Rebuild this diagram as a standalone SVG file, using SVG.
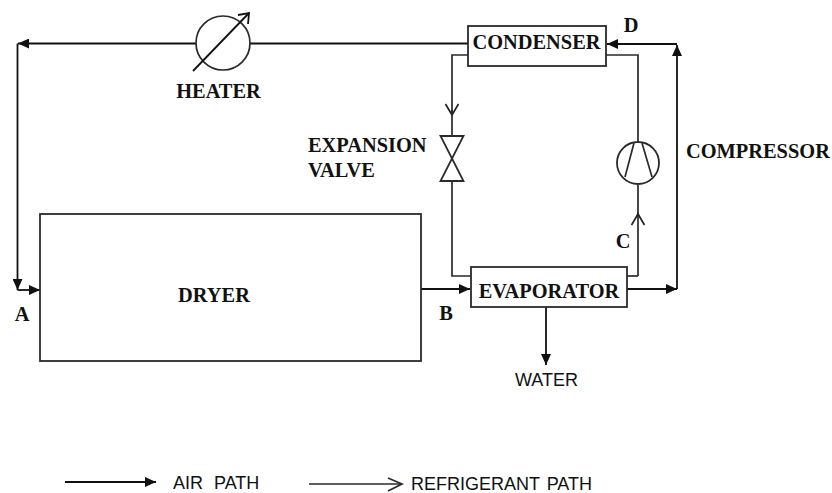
<svg xmlns="http://www.w3.org/2000/svg" width="832" height="493" viewBox="0 0 832 493">
<style>
.l{fill:none;stroke:#2a2a2a;stroke-width:1.7}
.a{fill:none;stroke:#111;stroke-width:1.8}
.b{fill:#fff;stroke:#2a2a2a;stroke-width:1.8}
.t{font-family:"Liberation Serif",serif;font-weight:bold;font-size:20.4px;fill:#111}
.s{font-family:"Liberation Sans",sans-serif;font-size:18px;fill:#111}
</style>
<defs>
<marker id="f" markerUnits="userSpaceOnUse" markerWidth="12" markerHeight="10" refX="11" refY="5" orient="auto"><path d="M0 0L11 5L0 10Z" fill="#111"/></marker>
<marker id="o" markerUnits="userSpaceOnUse" markerWidth="14" markerHeight="16" refX="12" refY="7" orient="auto"><path d="M1 0.5L12 7L1 13.5" fill="none" stroke="#222" stroke-width="1.7"/></marker>
</defs>
<g id="connectors">
<path class="a" d="M468 43.5H250M196 43.5H18" marker-end="url(#f)"/>
<path class="a" d="M17.500 43.5V290" marker-end="url(#f)"/>
<path class="a" d="M17.500 290H40" marker-end="url(#f)"/>
<path class="a" d="M421 289H470" marker-end="url(#f)"/>
<path class="a" d="M627 289H677" marker-end="url(#f)"/>
<path class="a" d="M677 289V45" marker-end="url(#f)"/>
<path class="a" d="M677 44H607" marker-end="url(#f)"/>
<path class="a" d="M546 307V365" marker-end="url(#f)"/>
<path class="l" d="M468 55H452V115" marker-end="url(#o)"/>
<path class="l" d="M452 110V136M452 181V276H471"/>
<path class="l" d="M606 55H638V142M638 185V215"/>
<path class="l" d="M638 276V214" marker-end="url(#o)"/>
<path class="l" d="M627 276H638"/>
<path class="a" d="M65 482H156" marker-end="url(#f)"/>
<path class="l" d="M309 484H401"/>
<path class="l" d="M388 478L402 484L388 491"/>
</g>
<g id="heater">
<circle class="l" cx="223" cy="43" r="27"/>
<path class="a" d="M193 71L249 13"/>
<path class="a" d="M238 15L249 13L248 24"/>
<text class="t" x="218.500" y="98" text-anchor="middle">HEATER</text>
</g>
<g id="condenser">
<rect class="b" x="468" y="26" width="138" height="40"/>
<text class="t" x="536.500" y="49" text-anchor="middle">CONDENSER</text>
</g>
<g id="expansion-valve">
<path class="b" d="M440.500 136H463.500L440.500 181H463.500Z"/>
<text class="t" x="308" y="152">EXPANSION</text>
<text class="t" x="308" y="177">VALVE</text>
</g>
<g id="compressor">
<circle class="b" cx="638" cy="163" r="21"/>
<path class="l" d="M625 177L634 143M642 143L652 177"/>
<text class="t" x="686" y="158">COMPRESSOR</text>
</g>
<g id="dryer">
<rect class="b" x="40" y="214" width="381" height="147"/>
<text class="t" x="214" y="302" text-anchor="middle">DRYER</text>
</g>
<g id="evaporator">
<rect class="b" x="471" y="267" width="156" height="40"/>
<text class="t" x="549" y="298" text-anchor="middle">EVAPORATOR</text>
</g>
<g id="labels">
<text class="t" x="22" y="321" text-anchor="middle">A</text>
<text class="t" x="446" y="320" text-anchor="middle">B</text>
<text class="t" x="623" y="248" text-anchor="middle">C</text>
<text class="t" x="631" y="32" text-anchor="middle">D</text>
<text class="s" x="515" y="386">WATER</text>
<text class="s" x="173" y="489" word-spacing="6">AIR PATH</text>
<text class="s" x="411" y="490" word-spacing="2">REFRIGERANT PATH</text>
</g>
</svg>
